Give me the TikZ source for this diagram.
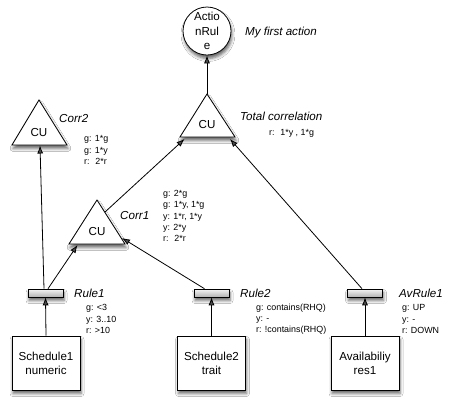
\documentclass[tikz,border=0pt]{standalone}
\usepackage{fontspec}
\setmainfont{Liberation Sans}
\usetikzlibrary{arrows.meta,shadows.blur}
\begin{document}
\begin{tikzpicture}[x=1bp,y=-1bp,
 base/.style={font=\fontsize{11.6bp}{14.5bp}\selectfont},
 lab/.style={font=\fontsize{11.6bp}{14bp}\selectfont\itshape, anchor=west, inner sep=0},
 small/.style={font=\fontsize{8.9bp}{11.2bp}\selectfont, anchor=west, inner sep=0, align=left},
 shad/.style={blur shadow={shadow xshift=1bp, shadow yshift=-3.5bp, shadow blur radius=3bp, shadow opacity=60}},
 box/.style={draw, fill=white, line width=0.8bp, minimum width=68bp, minimum height=54bp, align=center, shad, inner sep=0, font=\fontsize{11.6bp}{14bp}\selectfont},
 bar/.style={draw, line width=0.6bp, top color=gray!8, bottom color=gray!60, minimum width=35bp, minimum height=8bp, inner sep=0, shad},
 arr/.style={-{Latex[length=8bp,width=6bp]}, line width=0.8bp},
 tri/.style={draw, fill=white, line width=0.8bp, shad, line join=miter},
]
\fill[white] (0,0) rectangle (451,405);
\useasboundingbox (0,0) rectangle (451,405);

% action rule
\node[circle, draw, fill=white, line width=0.8bp, minimum size=48bp, inner sep=0, align=center, shad, base] (act) at (207,31) {Actio\\nRul\\e};
\node[lab] (lact) at (245,32) {My first action};

% triangles
\coordinate (tcA) at (207,94);
\draw[tri] (tcA) -- (235,137) -- (180,137) -- cycle;
\node[base] (tc) at (207,124) {CU};
\node[lab] (ltc) at (240,116) {Total correlation};
\node[small] (stc) at (269,133) {r:~ 1*y , 1*g};

\draw[tri] (39,100) -- (67,145) -- (12,145) -- cycle;
\node[base] (c2) at (39,132) {CU};
\node[lab] (lc2) at (59,118) {Corr2};
\node[small] (sc2) at (84,150) {g: 1*g\\g: 1*y\\r:~ 2*r};

\draw[tri] (97,200) -- (125,244) -- (69,244) -- cycle;
\node[base] (c1) at (97,231) {CU};
\node[lab] (lc1) at (120,215) {Corr1};
\node[small] (sc1) at (163,216) {g: 2*g\\g: 1*y, 1*g\\y: 1*r, 1*y\\y: 2*y\\r:~ 2*r};

% rule bars
\node[bar] (r1) at (45.5,293) {};
\node[bar] (r2) at (211.5,293) {};
\node[bar] (r3) at (365,293) {};
\node[lab] (lr1) at (74,293) {Rule1};
\node[small] (sr1) at (86,319) {g: <3\\y: 3..10\\r: >10};
\node[lab] (lr2) at (240,293) {Rule2};
\node[small] (sr2) at (256,319) {g: contains(RHQ)\\y: -\\r: !contains(RHQ)};
\node[lab] (lr3) at (399,293) {AvRule1};
\node[small] (sr3) at (402,319) {g: UP\\y: -\\r: DOWN};

% boxes
\node[box] (s1) at (46,363) {Schedule1\\numeric};
\node[box] (s2) at (211.5,363) {Schedule2\\trait};
\node[box] (s3) at (365,363) {Availabiliy\\res1};

% connector end points on triangles
\coordinate (c2in) at (40,145.5);
\coordinate (c1inL) at (77.5,245);
\coordinate (c1inR) at (122,238);
\coordinate (c1out) at (105,212);
\coordinate (tcinL) at (184.5,139);
\coordinate (tcinR) at (230,139);

% connectors
\draw[arr] (s1.north) -- (r1.south);
\draw[arr] (s2.north) -- (r2.south);
\draw[arr] (s3.north) -- (r3.south);
\draw[arr] ([xshift=-1.5bp]r1.north) -- (c2in);
\draw[arr] ([xshift=2.5bp]r1.north) -- (c1inL);
\draw[arr] ([xshift=-7bp]r2.north) -- (c1inR);
\draw[arr] (c1out) -- (tcinL);
\draw[arr] ([xshift=-3bp]r3.north) -- (tcinR);
\draw[arr] (tcA) -- (act.south);
\end{tikzpicture}
\end{document}
